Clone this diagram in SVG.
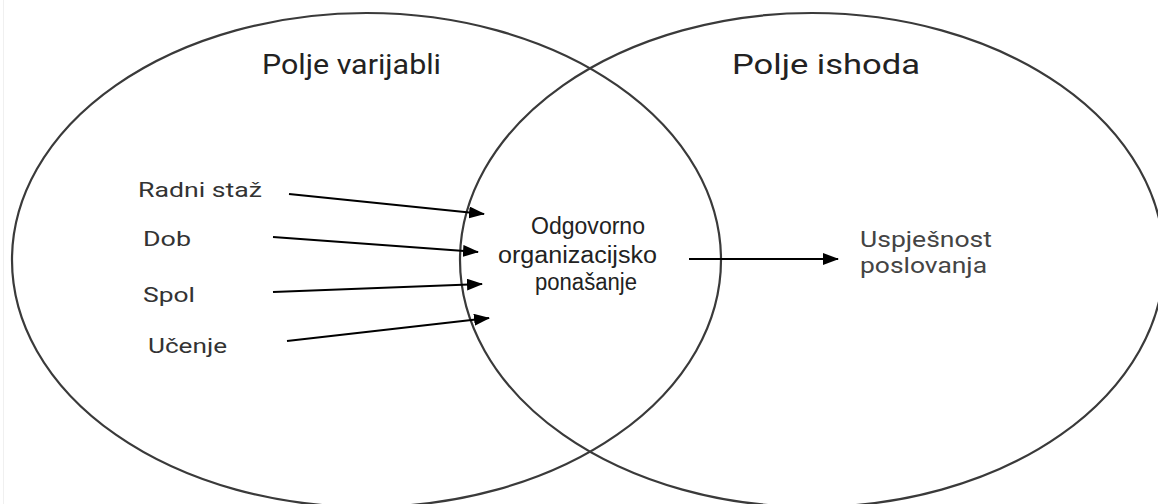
<svg xmlns="http://www.w3.org/2000/svg" width="1158" height="504" viewBox="0 0 1158 504">
<style>
.field{fill:none;stroke:#3a3a3a;stroke-width:2.2}
.title{font-family:Roboto,"Liberation Sans",sans-serif;font-size:27px;fill:#222}
.lbl{font-family:Roboto,"Liberation Sans",sans-serif;font-size:21px;fill:#333}
.mid{font-family:"Liberation Sans",Arial,sans-serif;font-size:23px;fill:#222}
.out{font-family:Roboto,"Liberation Sans",sans-serif;font-size:21.5px;fill:#444}
.conn{stroke:#000;stroke-width:2.2;fill:none;marker-end:url(#ah)}
</style>
<defs>
<marker id="ah" viewBox="0 0 16 12" refX="15" refY="6" markerWidth="16" markerHeight="12" markerUnits="userSpaceOnUse" orient="auto">
<path d="M0,0 L16,6 L0,12 Z" fill="#000"/>
</marker>
</defs>
<rect width="1158" height="504" fill="#fff"/>
<line x1="3.5" y1="0" x2="3.5" y2="504" stroke="#f0f0f0" stroke-width="1"/>
<g id="polje-varijabli">
<ellipse class="field" cx="366.5" cy="260" rx="354.5" ry="247"/>
<text class="title" x="262" y="73.5" textLength="179" lengthAdjust="spacingAndGlyphs">Polje varijabli</text>
</g>
<g id="polje-ishoda">
<ellipse class="field" cx="812" cy="260" rx="352" ry="247"/>
<text class="title" x="732" y="74" textLength="188" lengthAdjust="spacingAndGlyphs">Polje ishoda</text>
</g>
<g id="radni-staz"><text class="lbl" x="138" y="197" textLength="124" lengthAdjust="spacingAndGlyphs">Radni staž</text></g>
<g id="dob"><text class="lbl" x="143" y="246" textLength="48" lengthAdjust="spacingAndGlyphs">Dob</text></g>
<g id="spol"><text class="lbl" x="143" y="302" textLength="52" lengthAdjust="spacingAndGlyphs">Spol</text></g>
<g id="ucenje"><text class="lbl" x="148" y="353" textLength="79" lengthAdjust="spacingAndGlyphs">Učenje</text></g>
<g id="odgovorno-ponasanje">
<text class="mid" x="531" y="234" textLength="114" lengthAdjust="spacingAndGlyphs">Odgovorno</text>
<text class="mid" x="498" y="263" textLength="159" lengthAdjust="spacingAndGlyphs">organizacijsko</text>
<text class="mid" x="535" y="290" textLength="102" lengthAdjust="spacingAndGlyphs">ponašanje</text>
</g>
<g id="uspjesnost">
<text class="out" x="860" y="247" textLength="132" lengthAdjust="spacingAndGlyphs">Uspješnost</text>
<text class="out" x="860" y="273" textLength="127" lengthAdjust="spacingAndGlyphs">poslovanja</text>
</g>
<g id="connectors">
<line class="conn" x1="289" y1="194" x2="484" y2="214"/>
<line class="conn" x1="273" y1="237" x2="478" y2="252"/>
<line class="conn" x1="273" y1="292" x2="482" y2="284"/>
<line class="conn" x1="287" y1="341" x2="489" y2="318"/>
<line class="conn" x1="689" y1="259" x2="838" y2="259"/>
</g>
</svg>
